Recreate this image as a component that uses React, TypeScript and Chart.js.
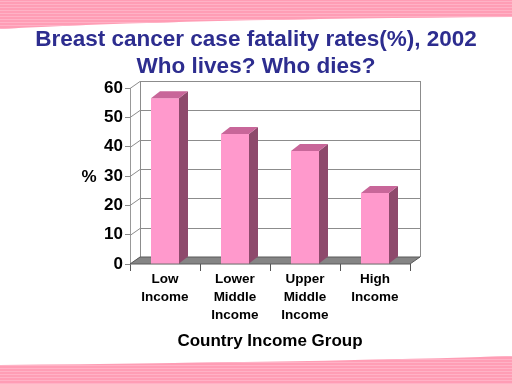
import React, { useEffect, useRef } from "react";
import { Chart, registerables } from "chart.js";

Chart.register(...registerables);

const titleLines = ["Breast cancer case fatality rates(%), 2002", "Who lives? Who dies?"];
const categories = [["Low", "Income"], ["Lower", "Middle", "Income"], ["Upper", "Middle", "Income"], ["High", "Income"]];
const values = [56.5, 44.3, 38.5, 24.2];
const yMin = 0;
const yMax = 60;
const yStep = 10;
const yAxisTitle = "%";
const xAxisTitle = "Country Income Group";

const FONT = "'Liberation Sans', Arial, sans-serif";
const WALL_DX = 10;
const BAR_DX = 9;
const DY = -7;

const decorPlugin = {
  id: "decor",
  beforeDraw(chart: any) {
    const { ctx, width, height } = chart;
    ctx.save();
    ctx.fillStyle = "#ffffff";
    ctx.fillRect(0, 0, width, height);
    // top band
    ctx.beginPath();
    ctx.moveTo(0, 0);
    ctx.lineTo(width, 0);
    ctx.lineTo(width, 17);
    ctx.quadraticCurveTo(180, 19, 0, 29);
    ctx.closePath();
    ctx.fillStyle = "#ff9db5";
    ctx.fill();
    ctx.save();
    ctx.clip();
    ctx.fillStyle = "#ffb2c6";
    for (let y = 1; y < 30; y += 3) ctx.fillRect(0, y, width, 1);
    ctx.restore();
    // bottom band
    ctx.beginPath();
    ctx.moveTo(0, height);
    ctx.lineTo(0, 365);
    ctx.quadraticCurveTo(330, 362, width, 356);
    ctx.lineTo(width, height);
    ctx.closePath();
    ctx.fillStyle = "#ff9db5";
    ctx.fill();
    ctx.save();
    ctx.clip();
    ctx.fillStyle = "#ffb2c6";
    for (let y = 356; y < height; y += 3) ctx.fillRect(0, y, width, 1);
    ctx.restore();
    // title
    ctx.fillStyle = "#2d2d8f";
    ctx.font = `bold 22.5px ${FONT}`;
    ctx.textAlign = "center";
    ctx.textBaseline = "middle";
    ctx.fillText(titleLines[0], width / 2, 40);
    ctx.fillText(titleLines[1], width / 2, 67);
    // y axis title
    ctx.fillStyle = "#000";
    ctx.font = `bold 17px ${FONT}`;
    ctx.fillText(yAxisTitle, 89, 177);
    ctx.restore();
  },
  beforeDatasetsDraw(chart: any) {
    const { ctx, chartArea } = chart;
    const { left, right, top, bottom } = chartArea;
    const yScale = chart.scales.y;
    ctx.save();
    // back wall
    ctx.fillStyle = "#ffffff";
    ctx.fillRect(left + WALL_DX, top + DY, right - left, bottom - top);
    ctx.strokeStyle = "#8c8c8c";
    ctx.lineWidth = 1;
    for (let v = yMin; v <= yMax; v += yStep) {
      const py = Math.round(yScale.getPixelForValue(v)) + 0.5;
      ctx.beginPath();
      ctx.moveTo(left, py);
      ctx.lineTo(left + WALL_DX, py + DY);
      ctx.lineTo(right + WALL_DX, py + DY);
      ctx.stroke();
    }
    ctx.beginPath();
    ctx.moveTo(left + WALL_DX + 0.5, top + DY);
    ctx.lineTo(left + WALL_DX + 0.5, bottom + DY);
    ctx.moveTo(right + WALL_DX + 0.5, top + DY);
    ctx.lineTo(right + WALL_DX + 0.5, bottom + DY);
    ctx.stroke();
    // floor
    ctx.beginPath();
    ctx.moveTo(left, bottom);
    ctx.lineTo(right, bottom);
    ctx.lineTo(right + WALL_DX, bottom + DY);
    ctx.lineTo(left + WALL_DX, bottom + DY);
    ctx.closePath();
    ctx.fillStyle = "#858585";
    ctx.fill();
    ctx.strokeStyle = "#5a5a5a";
    ctx.stroke();
    ctx.restore();
  },
  afterDatasetsDraw(chart: any) {
    const { ctx } = chart;
    const meta = chart.getDatasetMeta(0);
    ctx.save();
    meta.data.forEach((bar: any) => {
      const { x, y, base, width } = bar.getProps(["x", "y", "base", "width"], true);
      const l = x - width / 2;
      const r = x + width / 2;
      // side
      ctx.beginPath();
      ctx.moveTo(r, y);
      ctx.lineTo(r + BAR_DX, y + DY);
      ctx.lineTo(r + BAR_DX, base + DY);
      ctx.lineTo(r, base);
      ctx.closePath();
      ctx.fillStyle = "#8e4a6c";
      ctx.fill();
      // top
      ctx.beginPath();
      ctx.moveTo(l, y);
      ctx.lineTo(r, y);
      ctx.lineTo(r + BAR_DX, y + DY);
      ctx.lineTo(l + BAR_DX, y + DY);
      ctx.closePath();
      ctx.fillStyle = "#c86699";
      ctx.fill();
    });
    ctx.restore();
  },
};

export default function App() {
  const ref = useRef<HTMLCanvasElement | null>(null);
  useEffect(() => {
    if (!ref.current) return;
    const chart = new Chart(ref.current, {
      type: "bar",
      data: {
        labels: categories as any,
        datasets: [
          {
            data: values,
            backgroundColor: "#ff99cc",
            borderWidth: 0,
            barPercentage: 0.4,
            categoryPercentage: 1,
          },
        ],
      },
      options: {
        responsive: false,
        animation: false,
        layout: { padding: { left: 0, right: 102, top: 88, bottom: 0 } },
        plugins: {
          legend: { display: false },
          tooltip: { enabled: false },
          title: { display: false },
        },
        scales: {
          x: {
            grid: { offset: true, drawOnChartArea: false, drawTicks: true, tickLength: 7, color: "#555" },
            border: { display: false },
            ticks: {
              color: "#000",
              font: { family: FONT, size: 13.5, weight: "bold", lineHeight: 1.3 },
              padding: 0,
              maxRotation: 0,
              autoSkip: false,
            },
            title: {
              display: true,
              text: xAxisTitle,
              color: "#000",
              font: { family: FONT, size: 17, weight: "bold", lineHeight: 1.2 },
              padding: { top: 0, bottom: 32 },
            },
            afterFit: (s: any) => {
              s.height = 120;
            },
          },
          y: {
            min: yMin,
            max: yMax,
            grid: { drawOnChartArea: false, drawTicks: true, tickLength: 5, color: "#888" },
            border: { display: true, color: "#999" },
            ticks: {
              stepSize: yStep,
              color: "#000",
              padding: 2,
              font: { family: FONT, size: 17, weight: "bold" },
            },
            afterFit: (s: any) => {
              s.width = 130;
            },
          },
        },
      },
      plugins: [decorPlugin],
    });
    return () => chart.destroy();
  }, []);
  return (
    <canvas
      ref={ref}
      width={512}
      height={384}
      style={{ position: "absolute", left: 0, top: 0, display: "block" }}
    />
  );
}
